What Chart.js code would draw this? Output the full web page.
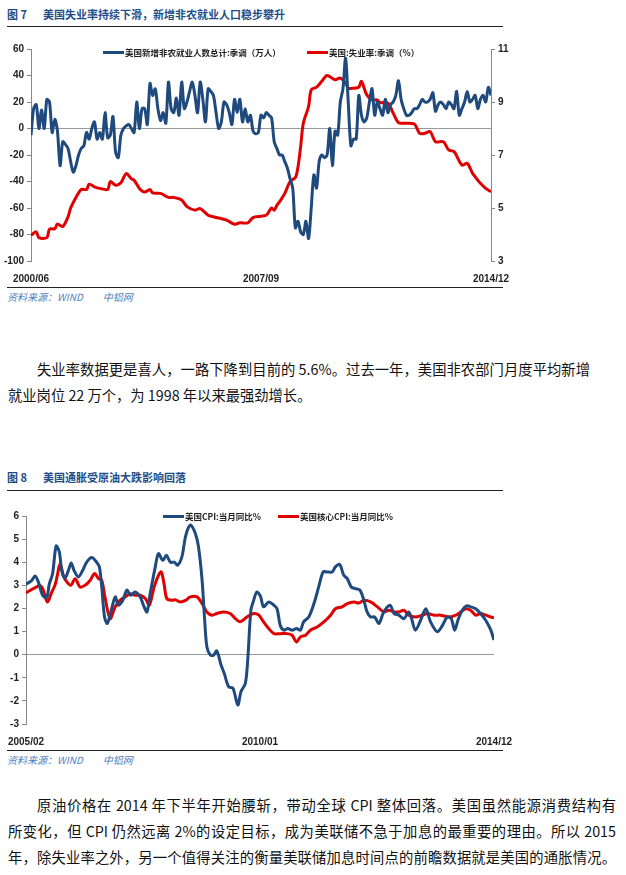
<!DOCTYPE html>
<html>
<head>
<meta charset="utf-8">
<script src="https://cdn.jsdelivr.net/npm/chart.js@4"></script>
<style>
  body { margin: 0; width: 626px; height: 875px; background: #fff; position: relative; overflow: hidden;
         font-family: "Noto Sans CJK SC", "Liberation Sans", sans-serif; }
  .abs { position: absolute; }
  .title { font-size: 11px; font-weight: bold; color: #1f4e87; white-space: nowrap; }
  .rule { left: 7px; width: 496px; height: 0; border-top: 1.5px solid #222; }
  .src { left: 7px; font-size: 10px; font-style: italic; color: #4f7fc0; white-space: nowrap; }
  .legend { font-size: 8.5px; font-weight: bold; color: #222; white-space: nowrap; display: flex; align-items: center; }
  .legend i { display: inline-block; width: 21px; height: 3px; margin-right: 1px; }
  .para { left: 8px; font-size: 14.3px; color: #111; white-space: nowrap; }
  .line { display: block; text-align: justify; text-align-last: justify; height: 26px; }
</style>
</head>
<body>
<div class="abs title" style="left:7px;top:6px">图 7</div>
<div class="abs title" style="left:43px;top:6px">美国失业率持续下滑，新增非农就业人口稳步攀升</div>
<div class="abs rule" style="top:26px"></div>
<div class="abs" style="left:0;top:40px;width:520px;height:245px"><canvas id="jobsChart"></canvas></div>
<div class="abs legend" style="left:103px;top:46px"><i style="background:#1f4a7d"></i>美国新增非农就业人数总计:季调（万人）</div>
<div class="abs legend" style="left:307px;top:46px"><i style="background:#e00000"></i>美国:失业率:季调（%）</div>
<div class="abs rule" style="top:287px"></div>
<div class="abs src" style="top:289px">资料来源：WIND　　中铝网</div>

<div class="abs para" style="top:358px;width:582px">
  <span class="line" style="margin-left:29px">失业率数据更是喜人，一路下降到目前的 5.6%。过去一年，美国非农部门月度平均新增</span>
  <span style="display:block">就业岗位 22 万个，为 1998 年以来最强劲增长。</span>
</div>

<div class="abs title" style="left:7px;top:469px">图 8</div>
<div class="abs title" style="left:43px;top:469px">美国通胀受原油大跌影响回落</div>
<div class="abs rule" style="top:490px"></div>
<div class="abs" style="left:0;top:505px;width:520px;height:243px"><canvas id="cpiChart"></canvas></div>
<div class="abs legend" style="left:163px;top:510px"><i style="background:#1f4a7d"></i>美国CPI:当月同比%</div>
<div class="abs legend" style="left:278px;top:510px"><i style="background:#e00000"></i>美国核心CPI:当月同比%</div>
<div class="abs rule" style="top:750px"></div>
<div class="abs src" style="top:752px">资料来源：WIND　　中铝网</div>

<div class="abs para" style="top:794px;width:608px">
  <span class="line" style="margin-left:29px">原油价格在 2014 年下半年开始腰斩，带动全球 CPI 整体回落。美国虽然能源消费结构有</span>
  <span class="line">所变化，但 CPI 仍然远离 2%的设定目标，成为美联储不急于加息的最重要的理由。所以 2015</span>
  <span class="line">年，除失业率之外，另一个值得关注的衡量美联储加息时间点的前瞻数据就是美国的通胀情况。</span>
</div>

<script>
// chart 7: months since 2000/06
const jobsTicks = { 0: '2000/06', 87: '2007/09', 174: '2014/12' };
const payrolls = [-5,15,18,0,14,0,22,20,-3,7,-2,-28,-10,-12,-15,-25,-33,-28,-20,-15,-13,-3,-8,0,5,-8,-3,-8,12,-7,
  -5,9,-18,-22,-5,0,2,3,0,-3,20,0,15,15,3,34,25,30,15,6,12,4,35,15,12,23,10,35,15,20,
  28,35,25,12,35,22,5,30,28,25,12,0,5,20,18,12,3,22,12,22,5,15,5,10,-2,-4,-3,10,8,12,
  10,8,-10,-15,-20,-20,-25,-30,-38,-45,-75,-70,-78,-80,-70,-83,-60,-35,-45,-25,-20,-22,-20,0,-28,-2,-5,20,30,53,
  20,-13,-8,-8,25,10,5,8,20,30,10,20,15,10,22,12,18,20,25,36,22,15,10,10,12,15,15,18,22,20,
  20,22,27,13,18,20,18,15,20,18,15,28,10,15,20,28,20,22,25,15,22,25,20,31,25];
const unempMonth = [0,2,3,6,7,9,10,12,14,15,17,19,21,22,24,26,29,30,32,34,36,38,39,41,43,45,46,49,52,54,
  57,59,62,64,67,69,72,74,77,79,82,84,87,89,91,92,93,94,96,98,100,101,102,103,105,106,108,110,112,115,
  117,119,120,122,124,125,127,129,131,132,135,137,139,141,145,147,149,151,153,156,158,160,163,165,167,168,170,172,174];
const unempRate = [3.97,4.1,3.88,3.88,4.2,4.22,4.4,4.3,4.67,5.0,5.4,5.7,5.7,5.9,5.8,5.74,5.7,6.0,5.86,5.95,
  6.3,6.1,6.05,5.74,5.6,5.7,5.57,5.55,5.4,5.4,5.3,5.05,4.92,4.98,4.73,4.67,4.6,4.54,4.39,4.44,
  4.44,4.64,4.69,4.73,5.0,4.92,5.1,5.23,5.55,6.0,6.15,6.56,7.32,8.2,8.83,9.46,9.56,9.78,10.0,9.84,
  9.9,9.71,9.52,9.52,9.56,9.78,9.27,9.08,9.08,8.98,8.96,8.58,8.22,8.2,8.17,7.82,7.82,7.88,7.5,7.5,
  7.19,7.13,6.62,6.69,6.31,6.18,5.93,5.74,5.61];

// chart 8: months since 2005/02
const cpiTicks = { 0: '2005/02', 59: '2010/01', 118: '2014/12' };
const cpiMonth = [0,1.4,2.3,3.1,4.2,5.2,5.9,6.7,7.6,8.4,9,9.8,10.7,11.4,12.1,13.2,14.3,15.3,16.6,17.8,
  18.5,19.1,19.8,20.5,21.5,22.5,23.3,24.4,25.4,26.4,27.5,28.8,29.6,30.5,31.3,32.6,33.4,34.5,35.4,36.4,
  37.4,38.2,39.3,40.2,41,41.6,42.7,43.5,44.4,45,45.6,46.5,47.3,48.1,49.2,50,51.1,52.2,53.4,54.2,
  55.3,55.9,56.7,57.4,58.2,59.1,59.9,61.2,62.5,63.3,64.1,65,66,67.1,68.2,69.2,70,71.3,72.6,73.8,
  74.9,75.9,77.2,78,79.1,80.1,81,82,83.1,84.2,85.2,86,86.9,87.9,89,90.2,91.8,92.8,94,95.3,
  96.5,97.1,98.2,99.5,100.8,102,103.7,105,106.2,107.2,108.1,108.9,110,111.1,112.1,113.4,114.6,115.9,117.2,118];
const cpiValue = [3.05,3.2,3.4,3.15,2.57,2.47,3.07,3.5,4.7,4.45,3.65,3.3,3.65,3.97,3.65,3.36,3.65,4.0,4.2,4.0,
  3.8,2.93,1.63,1.35,1.92,2.5,2.14,2.35,2.79,2.57,2.71,2.5,2.14,1.85,2.64,3.8,4.37,4.08,4.3,4.0,
  4.0,3.87,4.23,5.1,5.52,5.6,5.24,4.66,3.22,1.63,0.34,-0.02,-0.02,0.16,-0.46,-0.82,-1.39,-1.46,-2.18,-1.6,
  -1.25,-0.24,1.92,2.35,2.71,2.53,2.07,2.28,2.14,1.99,1.27,1.06,1.13,1.06,1.13,1.06,1.42,1.63,2.21,2.93,
  3.58,3.58,3.58,3.8,3.9,3.44,3.29,2.93,2.86,2.79,2.35,1.85,1.63,1.63,1.35,1.85,2.14,1.78,1.71,1.56,
  1.85,1.63,1.06,1.49,1.99,1.42,0.99,1.27,1.63,1.56,1.06,1.49,1.92,2.11,2.07,1.99,1.78,1.49,1.06,0.63];
const coreMonth = [0,1.4,2.7,3.5,4.2,5.4,6.5,7.3,7.9,8.6,9.4,10.3,11.3,12.4,13.6,14.9,16.2,17.3,18.3,19.1,
  19.9,21.2,22.5,23.7,25,26.3,27.5,28.8,30.1,31.1,32.3,33.4,34.1,34.8,35.5,36.8,37.6,38.9,40.2,41.4,
  43.1,44.4,45.6,46.9,48.1,49.8,51.5,52.8,54,55.7,57.4,58.7,59.9,61.2,62.5,64.1,65.8,67.1,68.2,69.2,
  70.5,71.7,73.4,75.1,76.8,78,79.7,81,82.7,83.9,85.2,86.9,88.6,90.2,91.5,92.8,94,95.3,96.5,98.2,
  99.9,101.2,102.9,104.5,106.7,108.4,109.6,110.9,112.1,113.4,114.6,115.9,117.2,118];
const coreValue = [2.67,2.82,2.93,3.0,2.86,2.28,2.71,3.0,3.43,3.94,3.43,3.15,3.0,3.29,2.93,3.0,3.22,3.51,3.29,3.22,
  2.5,1.56,2.07,2.35,2.5,2.64,2.57,2.57,2.43,2.14,2.93,3.43,3.58,3.07,2.43,2.35,2.38,2.28,2.35,2.5,
  2.5,2.21,1.85,1.71,1.78,1.85,1.78,1.56,1.42,1.63,1.78,1.71,1.42,1.13,0.91,0.91,0.91,0.84,0.55,0.77,
  0.84,1.06,1.2,1.42,1.71,1.99,2.07,2.21,2.28,2.24,2.35,2.28,2.07,1.85,1.92,1.85,1.85,1.92,1.71,1.63,
  1.71,1.78,1.71,1.71,1.63,1.71,1.85,1.99,1.92,1.71,1.78,1.71,1.63,1.59];

const BLUE = '#1f4a7d';
const RED = '#e00000';
const tickFont = { size: 10, family: "'Liberation Sans', sans-serif", weight: 'bold' };

const lineStyle = (color) => ({
  borderColor: color, borderWidth: 3, pointRadius: 0, tension: 0.3, fill: false
});

function xScale(tickMap, max) {
  return {
    type: 'linear', min: 0, max: max,
    border: { display: false },
    grid: { display: false },
    afterBuildTicks: (s) => { s.ticks = Object.keys(tickMap).map(v => ({ value: +v })); },
    afterFit: (s) => { s.height = 24; },
    ticks: { color: '#222', font: tickFont, maxRotation: 0, autoSkip: false, padding: 4,
             callback: (v) => tickMap[v] || '' }
  };
}

function yScale(min, max, step, pos, width, zeroLine) {
  return {
    position: pos, min: min, max: max,
    border: { display: true, color: '#888', width: 1 },
    grid: {
      drawOnChartArea: zeroLine,
      color: (c) => c.tick && c.tick.value === 0 ? '#999' : 'rgba(0,0,0,0)',
      tickColor: '#888', tickLength: 4
    },
    afterFit: (s) => { s.width = width; },
    ticks: { stepSize: step, color: '#222', font: tickFont, padding: 3 }
  };
}

const baseOptions = {
  responsive: true, maintainAspectRatio: false, animation: false,
  plugins: { legend: { display: false }, tooltip: { enabled: false } }
};

new Chart(document.getElementById('jobsChart'), {
  type: 'line',
  data: {
    datasets: [
      { ...lineStyle(BLUE), data: payrolls.map((v, i) => ({ x: i, y: v })), yAxisID: 'y' },
      { ...lineStyle(RED), data: unempMonth.map((m, i) => ({ x: m, y: unempRate[i] })), yAxisID: 'y1' }
    ]
  },
  options: {
    ...baseOptions,
    layout: { padding: { top: 9, right: 0, left: 0, bottom: 0 } },
    scales: {
      x: xScale(jobsTicks, 174),
      y: yScale(-100, 60, 20, 'left', 31, true),
      y1: yScale(3, 11, 2, 'right', 29, false)
    }
  }
});

new Chart(document.getElementById('cpiChart'), {
  type: 'line',
  data: {
    datasets: [
      { ...lineStyle(BLUE), data: cpiMonth.map((m, i) => ({ x: m, y: cpiValue[i] })) },
      { ...lineStyle(RED), data: coreMonth.map((m, i) => ({ x: m, y: coreValue[i] })) }
    ]
  },
  options: {
    ...baseOptions,
    layout: { padding: { top: 11, right: 26, left: 0, bottom: 0 } },
    scales: {
      x: xScale(cpiTicks, 118),
      y: yScale(-3, 6, 1, 'left', 26, true)
    }
  }
});
</script>
</body>
</html>
